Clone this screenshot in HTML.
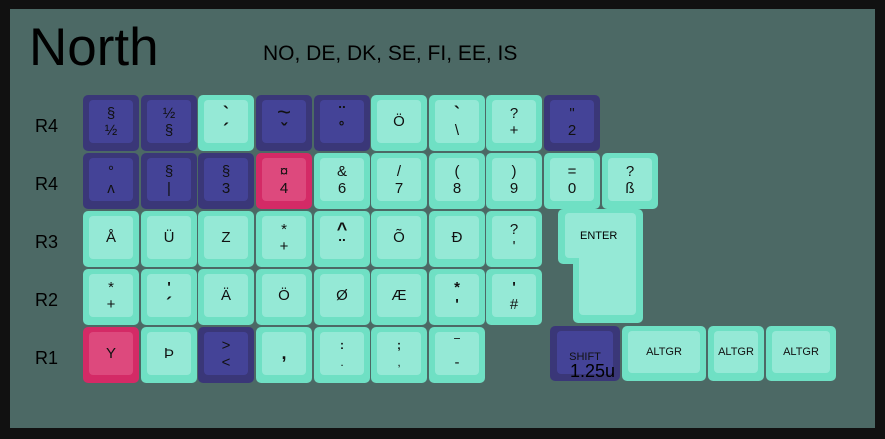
<!DOCTYPE html>
<html><head><meta charset="utf-8"><style>
*{margin:0;padding:0;box-sizing:border-box}
body{width:885px;height:439px;background:#111;position:relative;overflow:hidden;font-family:"Liberation Sans","DejaVu Sans",sans-serif}
.bg{position:absolute;left:10px;top:9px;width:865px;height:419px;background:#4c6965}
.t{position:absolute;color:#000;white-space:nowrap}
.k{position:absolute;width:56px;height:56px;border-radius:5px;background:#6fe0c4}
.k .i{position:absolute;left:6px;right:6px;top:5px;bottom:8px;border-radius:4px;background:#95e9d6;display:flex;flex-direction:column;align-items:center;justify-content:center;font-size:15px;line-height:17px;color:#111;text-align:center}
.p{background:#3a3778}.p .i{background:#444397}
.r{background:#d42a66}.r .i{background:#dd497d}
.s .i{font-size:11px}
.b{font-weight:bold;font-size:18px}
</style></head><body>
<div class="bg"></div>
<div class="t" style="left:29px;top:17px;font-size:53px">North</div>
<div class="t" style="left:263px;top:42px;font-size:21px">NO, DE, DK, SE, FI, EE, IS</div>
<div class="t" style="left:35px;top:116px;font-size:18px">R4</div>
<div class="t" style="left:35px;top:174px;font-size:18px">R4</div>
<div class="t" style="left:35px;top:232px;font-size:18px">R3</div>
<div class="t" style="left:35px;top:290px;font-size:18px">R2</div>
<div class="t" style="left:35px;top:348px;font-size:18px">R1</div>

<div class="k p" style="left:83px;top:95px"><div class="i">§<br>½</div></div>
<div class="k p" style="left:141px;top:95px"><div class="i">½<br>§</div></div>
<div class="k" style="left:198px;top:95px"><div class="i"><span class="b">`</span><span class="b">´</span></div></div>
<div class="k p" style="left:256px;top:95px"><div class="i"><span style="font-size:24px;line-height:18px">~</span><span class="b">ˇ</span></div></div>
<div class="k p" style="left:314px;top:95px"><div class="i"><span class="b">¨</span><span class="b">˚</span></div></div>
<div class="k" style="left:371px;top:95px"><div class="i">Ö</div></div>
<div class="k" style="left:429px;top:95px"><div class="i"><span class="b">`</span>\</div></div>
<div class="k" style="left:486px;top:95px"><div class="i">?<br>+</div></div>
<div class="k p" style="left:544px;top:95px"><div class="i">"<br>2</div></div>

<div class="k p" style="left:83px;top:153px"><div class="i">°<br>ʌ</div></div>
<div class="k p" style="left:141px;top:153px"><div class="i">§<br>|</div></div>
<div class="k p" style="left:198px;top:153px"><div class="i">§<br>3</div></div>
<div class="k r" style="left:256px;top:153px"><div class="i">¤<br>4</div></div>
<div class="k" style="left:314px;top:153px"><div class="i">&amp;<br>6</div></div>
<div class="k" style="left:371px;top:153px"><div class="i">/<br>7</div></div>
<div class="k" style="left:429px;top:153px"><div class="i">(<br>8</div></div>
<div class="k" style="left:486px;top:153px"><div class="i">)<br>9</div></div>
<div class="k" style="left:544px;top:153px"><div class="i">=<br>0</div></div>
<div class="k" style="left:602px;top:153px"><div class="i">?<br>ß</div></div>

<div class="k" style="left:83px;top:211px"><div class="i">Å</div></div>
<div class="k" style="left:141px;top:211px"><div class="i">Ü</div></div>
<div class="k" style="left:198px;top:211px"><div class="i">Z</div></div>
<div class="k" style="left:256px;top:211px"><div class="i">*<br>+</div></div>
<div class="k" style="left:314px;top:211px"><div class="i"><span class="b">^</span><span class="b">¨</span></div></div>
<div class="k" style="left:371px;top:211px"><div class="i">Õ</div></div>
<div class="k" style="left:429px;top:211px"><div class="i">Đ</div></div>
<div class="k" style="left:486px;top:211px"><div class="i">?<br>'</div></div>

<div style="position:absolute;left:558px;top:209px;width:85px;height:55px;background:#6fe0c4;border-radius:5px 5px 0 5px"></div>
<div style="position:absolute;left:573px;top:240px;width:70px;height:83px;background:#6fe0c4;border-radius:0 0 5px 5px"></div>
<div style="position:absolute;left:565px;top:213px;width:71px;height:45px;background:#95e9d6;border-radius:4px 4px 0 4px"></div>
<div style="position:absolute;left:579px;top:240px;width:57px;height:75px;background:#95e9d6;border-radius:0 0 4px 4px"></div>
<div class="t" style="left:580px;top:230px;font-size:11px">ENTER</div>

<div class="k" style="left:83px;top:269px"><div class="i">*<br>+</div></div>
<div class="k" style="left:141px;top:269px"><div class="i"><b>'</b><span class="b">´</span></div></div>
<div class="k" style="left:198px;top:269px"><div class="i">Ä</div></div>
<div class="k" style="left:256px;top:269px"><div class="i">Ö</div></div>
<div class="k" style="left:314px;top:269px"><div class="i">Ø</div></div>
<div class="k" style="left:371px;top:269px"><div class="i">Æ</div></div>
<div class="k" style="left:429px;top:269px"><div class="i"><b>*</b><b>'</b></div></div>
<div class="k" style="left:486px;top:269px"><div class="i"><b>'</b>#</div></div>

<div class="k r" style="left:83px;top:327px"><div class="i">Y</div></div>
<div class="k" style="left:141px;top:327px"><div class="i">Þ</div></div>
<div class="k p" style="left:198px;top:327px"><div class="i">&gt;<br>&lt;</div></div>
<div class="k" style="left:256px;top:327px"><div class="i"><b style="font-size:18px">,</b></div></div>
<div class="k" style="left:314px;top:327px"><div class="i" style="font-size:12px"><b>:</b>.</div></div>
<div class="k" style="left:371px;top:327px"><div class="i" style="font-size:12px"><b>;</b>,</div></div>
<div class="k" style="left:429px;top:327px"><div class="i">‾<br>-</div></div>

<div class="k p s" style="left:550px;top:326px;width:70px;height:55px"><div class="i" style="justify-content:flex-start;padding-top:18px;left:7px;right:7px;bottom:7px">SHIFT</div></div>
<div class="t" style="left:570px;top:361px;font-size:18px">1.25u</div>
<div class="k s" style="left:622px;top:326px;width:84px;height:55px"><div class="i">ALTGR</div></div>
<div class="k s" style="left:708px;top:326px;width:56px;height:55px"><div class="i">ALTGR</div></div>
<div class="k s" style="left:766px;top:326px;width:70px;height:55px"><div class="i">ALTGR</div></div>
</body></html>
